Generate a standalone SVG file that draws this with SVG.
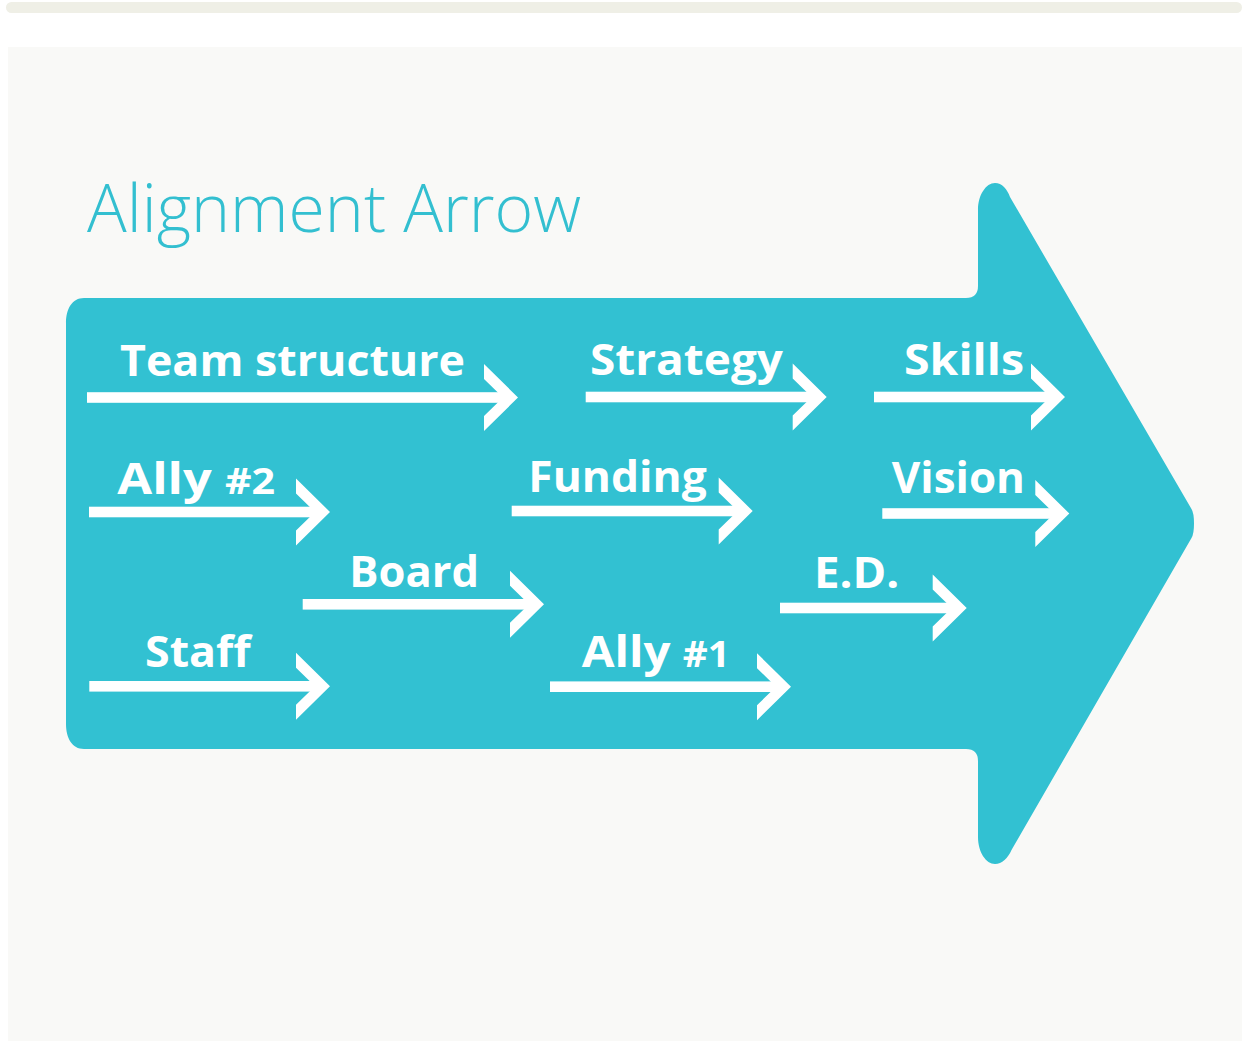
<svg xmlns="http://www.w3.org/2000/svg" xmlns:xlink="http://www.w3.org/1999/xlink" width="1244" height="1041" viewBox="0 0 1244 1041">
<style>
.lbl{font-family:"Open Sans","Noto Sans","Liberation Sans",sans-serif;font-weight:700;font-size:43px;fill:#ffffff}
.sm{font-size:35px}
.title{font-family:"Open Sans","Lato","Noto Sans","Liberation Sans",sans-serif;font-weight:350;font-size:66px;fill:#33bfd0}
.w{fill:#ffffff}
</style>
<defs>
<path id="chev" d="M-34,-33.5 L0,0 L-34,33.5 L-34,18.5 L-15,0 L-34,-18.5 Z"/>
</defs>
<rect x="0" y="0" width="1244" height="1041" fill="#ffffff"/>
<rect x="6" y="2" width="1236" height="11" rx="5.5" fill="#efefe6"/>
<rect x="8" y="47" width="1234" height="994" fill="#f9f9f7"/>
<g id="big-arrow">
<path fill="#32c1d2" d="M84,298 L966,298 Q978,298 978,286 L978,210 C978,195 986,183 995,183 C1002,183 1007,189 1010,197 L1191.5,509 Q1194,513 1194,523.5 Q1194,534 1191.5,538 L1011.5,850 C1008,858 1002,864 995,864 C986,864 978,852 978,837 L978,761 Q978,749 966,749 L84,749 C72,749 66,738 66,724 L66,323 C66,309 72,298 84,298 Z"/>
</g>
<g id="title">
<text class="title" x="87" y="232" textLength="494" lengthAdjust="spacingAndGlyphs">Alignment Arrow</text>
</g>
<g id="connectors" class="w">
<g id="arrow-team"><rect x="87" y="392.2" width="421" height="10.6"/><use xlink:href="#chev" href="#chev" transform="translate(518,397.5)"/></g>
<g id="arrow-strategy"><rect x="585.7" y="391.7" width="231" height="10.6"/><use xlink:href="#chev" href="#chev" transform="translate(826.7,397)"/></g>
<g id="arrow-skills"><rect x="874" y="391.7" width="181" height="10.6"/><use xlink:href="#chev" href="#chev" transform="translate(1065,397)"/></g>
<g id="arrow-ally2"><rect x="89" y="506.7" width="231" height="10.6"/><use xlink:href="#chev" href="#chev" transform="translate(330,512)"/></g>
<g id="arrow-funding"><rect x="511.7" y="505.7" width="231" height="10.6"/><use xlink:href="#chev" href="#chev" transform="translate(752.7,511)"/></g>
<g id="arrow-vision"><rect x="882.3" y="508.2" width="177" height="10.6"/><use xlink:href="#chev" href="#chev" transform="translate(1069.3,513.5)"/></g>
<g id="arrow-board"><rect x="302.7" y="599" width="231" height="10.6"/><use xlink:href="#chev" href="#chev" transform="translate(544,604.3)"/></g>
<g id="arrow-ed"><rect x="780" y="602.7" width="177" height="10.6"/><use xlink:href="#chev" href="#chev" transform="translate(966.7,608)"/></g>
<g id="arrow-staff"><rect x="89.3" y="681" width="231" height="10.6"/><use xlink:href="#chev" href="#chev" transform="translate(330,686.3)"/></g>
<g id="arrow-ally1"><rect x="550" y="681.4" width="231" height="10.6"/><use xlink:href="#chev" href="#chev" transform="translate(791,686.7)"/></g>
</g>
<g id="node-team"><text class="lbl" x="120" y="375.5" textLength="345" lengthAdjust="spacingAndGlyphs">Team structure</text></g>
<g id="node-strategy"><text class="lbl" x="590" y="375" textLength="193" lengthAdjust="spacingAndGlyphs">Strategy</text></g>
<g id="node-skills"><text class="lbl" x="904" y="375" textLength="120" lengthAdjust="spacingAndGlyphs">Skills</text></g>
<g id="node-ally2"><text class="lbl" x="117.3" y="494.3" textLength="157.7" lengthAdjust="spacingAndGlyphs">Ally <tspan class="sm">#2</tspan></text></g>
<g id="node-funding"><text class="lbl" x="528.3" y="492.3" textLength="178.4" lengthAdjust="spacingAndGlyphs">Funding</text></g>
<g id="node-vision"><text class="lbl" x="891.7" y="493.3" textLength="133.3" lengthAdjust="spacingAndGlyphs">Vision</text></g>
<g id="node-board"><text class="lbl" x="349.3" y="586.7" textLength="129.7" lengthAdjust="spacingAndGlyphs">Board</text></g>
<g id="node-ed"><text class="lbl" x="814" y="587.7" textLength="85.3" lengthAdjust="spacingAndGlyphs">E.D.</text></g>
<g id="node-staff"><text class="lbl" x="145" y="666.7" textLength="105.7" lengthAdjust="spacingAndGlyphs">Staff</text></g>
<g id="node-ally1"><text class="lbl" x="581.7" y="666.7" textLength="148.3" lengthAdjust="spacingAndGlyphs">Ally <tspan class="sm">#1</tspan></text></g>
</svg>
